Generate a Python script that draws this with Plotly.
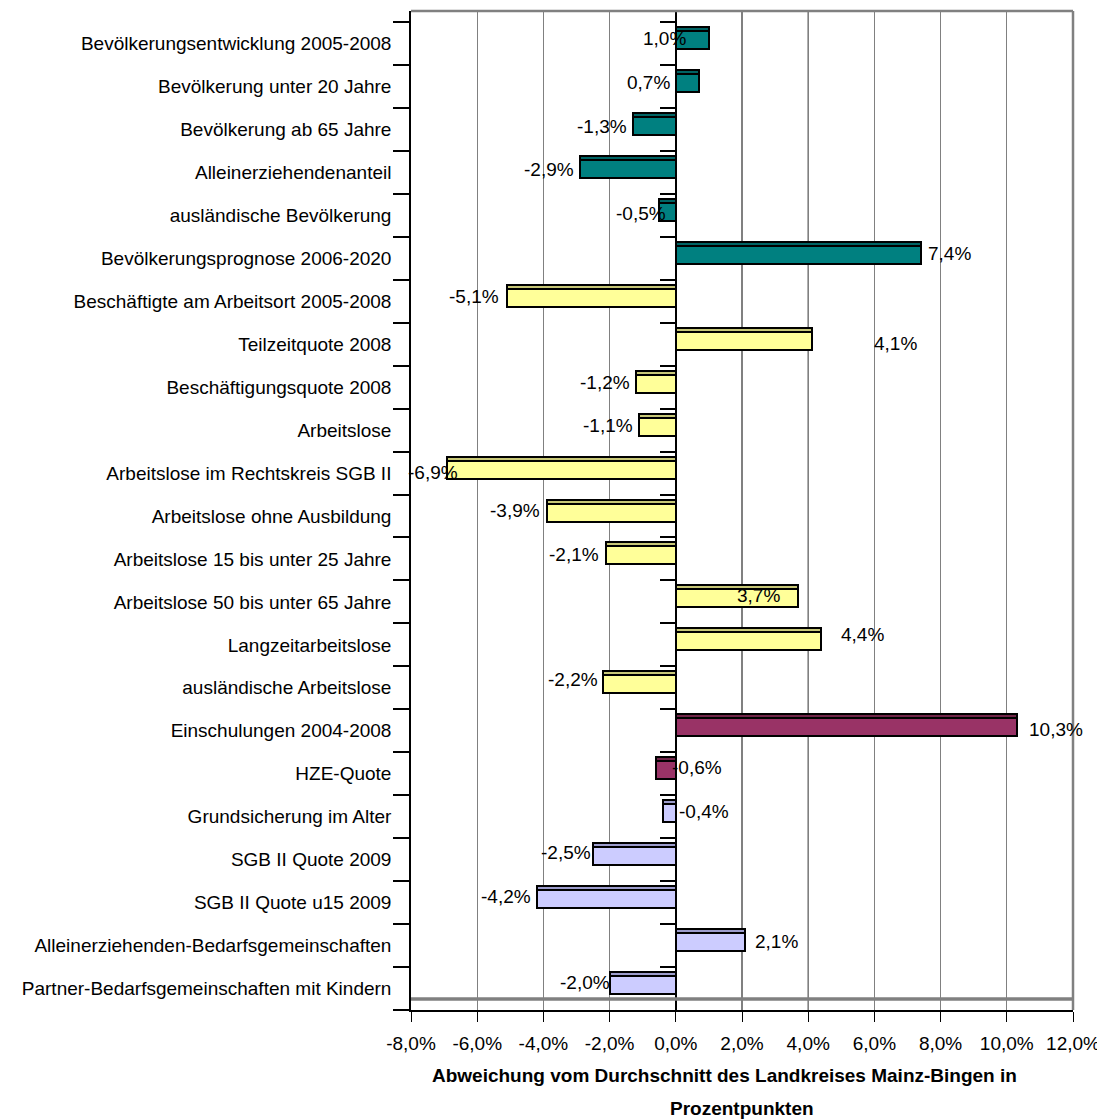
import plotly.graph_objects as go

# Indikatoren (von oben nach unten)
kategorien = [
    "Bevölkerungsentwicklung 2005-2008",
    "Bevölkerung unter 20 Jahre",
    "Bevölkerung ab 65 Jahre",
    "Alleinerziehendenanteil",
    "ausländische Bevölkerung",
    "Bevölkerungsprognose 2006-2020",
    "Beschäftigte am Arbeitsort 2005-2008",
    "Teilzeitquote 2008",
    "Beschäftigungsquote 2008",
    "Arbeitslose",
    "Arbeitslose im Rechtskreis SGB II",
    "Arbeitslose ohne Ausbildung",
    "Arbeitslose 15 bis unter 25 Jahre",
    "Arbeitslose 50 bis unter 65 Jahre",
    "Langzeitarbeitslose",
    "ausländische Arbeitslose",
    "Einschulungen 2004-2008",
    "HZE-Quote",
    "Grundsicherung im Alter",
    "SGB II Quote 2009",
    "SGB II Quote u15 2009",
    "Alleinerziehenden-Bedarfsgemeinschaften",
    "Partner-Bedarfsgemeinschaften mit Kindern",
]
werte = [1.0, 0.7, -1.3, -2.9, -0.5, 7.4, -5.1, 4.1, -1.2, -1.1, -6.9, -3.9,
         -2.1, 3.7, 4.4, -2.2, 10.3, -0.6, -0.4, -2.5, -4.2, 2.1, -2.0]
gruppe = ["bev"] * 6 + ["arb"] * 10 + ["bil"] * 2 + ["sgb"] * 5

x_ticks = [-8, -6, -4, -2, 0, 2, 4, 6, 8, 10, 12]
x_ticktext = ["-8,0%", "-6,0%", "-4,0%", "-2,0%", "0,0%", "2,0%", "4,0%",
              "6,0%", "8,0%", "10,0%", "12,0%"]

titel_zeilen = ["Abweichung vom Durchschnitt des Landkreises Mainz-Bingen in",
                "Prozentpunkten"]

# Farben: Vorderseite / Oberseite (3D-Effekt wie in Excel)
farbe_vorne = {"bev": "#008080", "arb": "#FFFF99", "bil": "#993366", "sgb": "#CCCCFF"}
farbe_oben = {"bev": "#006464", "arb": "#C8C878", "bil": "#702548", "sgb": "#9C9CCC"}

# Verschiebung der Datenbeschriftungen in Pixeln (rechts / unten)
label_dx = [-44, -50, -31, -31, -18, 29, -33, 84, -31, -31, -14, -32, -32, -40,
            41, -30, 39, 41, 41, -27, -31, 31, -25]
label_dy = [-5, -4, -3, -3, -2, -5, -5, -1, -5, -5, -1, -6, -4, -6, -10, -8, -1,
            -6, -5, -7, -6, -4, -6]

FONT = "Liberation Sans, Arial, sans-serif"
FS = 19
n = len(kategorien)
pos = list(range(n))
px_kat = 42.96  # Pixel je Kategorie

fig = go.Figure()

# Oberseite (dunkler Streifen) - ganze Balkenhöhe
fig.add_trace(go.Bar(
    x=werte, y=[p - 5.5 / px_kat for p in pos], orientation="h",
    width=22 / px_kat,
    marker=dict(color=[farbe_oben[g] for g in gruppe],
                line=dict(color="black", width=2)),
    hoverinfo="skip", showlegend=False,
))
# Vorderseite
fig.add_trace(go.Bar(
    x=werte, y=[p - 3.5 / px_kat for p in pos], orientation="h",
    width=18 / px_kat,
    marker=dict(color=[farbe_vorne[g] for g in gruppe],
                line=dict(color="black", width=2)),
    showlegend=False,
))
# unsichtbare Spur für die zweite y-Achse (Striche an der Nulllinie)
fig.add_trace(go.Scatter(x=[0], y=[0], yaxis="y2", mode="markers",
                         marker=dict(opacity=0), hoverinfo="skip", showlegend=False))

for v, p, dx, dy in zip(werte, pos, label_dx, label_dy):
    fig.add_annotation(
        x=v, y=p, xref="x", yref="y",
        text=f"{v:.1f}%".replace(".", ","),
        showarrow=False, xanchor="center", yanchor="middle",
        xshift=dx, yshift=-dy,
        font=dict(family=FONT, size=FS, color="black"),
    )

# Achsentitel (zwei Zeilen)
for zeile, abstand, versatz in zip(titel_zeilen, [-65, -98], [-18, 0]):
    fig.add_annotation(
        x=0.5, y=0, xref="paper", yref="paper", yanchor="middle",
        yshift=abstand, xshift=versatz,
        text=f"<b>{zeile}</b>", showarrow=False,
        font=dict(family=FONT, size=FS, color="black"),
    )

y_top = -0.5 - 11 / px_kat
y_bot = n - 0.5
grenzen = [i - 0.5 for i in range(n + 1)]

linie_grau = "#808080"
fig.update_layout(
    width=1097, height=1111,
    margin=dict(l=403, r=32, t=3, b=109),
    paper_bgcolor="white", plot_bgcolor="white",
    barmode="overlay", bargap=0,
    font=dict(family=FONT, size=FS, color="black"),
    xaxis=dict(
        range=[-8, 12], tickvals=x_ticks, ticktext=x_ticktext,
        showgrid=True, gridcolor=linie_grau, gridwidth=1,
        zeroline=True, zerolinecolor="black", zerolinewidth=2,
        showline=True, linecolor="black", linewidth=1.5,
        ticks="outside", ticklen=10, tickcolor="black",
        ticklabelstandoff=5,
        tickfont=dict(size=FS), fixedrange=True,
    ),
    yaxis=dict(
        range=[y_bot, y_top], tickvals=pos, ticktext=kategorien,
        showgrid=False, zeroline=False,
        showline=True, linecolor="black", linewidth=1.5,
        ticks="outside", ticklen=14, tickcolor="rgba(0,0,0,0)",
        minor=dict(tickmode="array", tickvals=grenzen, ticks="outside",
                   ticklen=16, tickcolor="black", tickwidth=1.5),
        tickfont=dict(size=FS), fixedrange=True,
    ),
    yaxis2=dict(
        range=[y_bot, y_top], overlaying="y", anchor="free", position=0.4,
        side="left", showgrid=False, zeroline=False, showline=False,
        showticklabels=False, ticks="",
        minor=dict(tickmode="array", tickvals=grenzen[:-1], ticks="outside",
                   ticklen=16, tickcolor="black", tickwidth=1.5),
        fixedrange=True,
    ),
    shapes=[
        # dunklere Gitterlinien bei 2 % und 4 %
        dict(type="line", xref="x", yref="paper", x0=2, x1=2, y0=0, y1=1,
             line=dict(color="black", width=1), layer="below"),
        dict(type="line", xref="x", yref="paper", x0=4, x1=4, y0=0, y1=1,
             line=dict(color="black", width=1), layer="below"),
        # Rahmen oben und rechts
        dict(type="line", xref="paper", yref="paper", x0=0, x1=1, y0=1, y1=1,
             line=dict(color=linie_grau, width=2.5)),
        dict(type="line", xref="paper", yref="paper", x0=1, x1=1, y0=0, y1=1,
             line=dict(color=linie_grau, width=2.5)),
        # Bodenkante
        dict(type="line", xref="paper", yref="y", x0=0, x1=1,
             y0=y_bot - 11 / px_kat, y1=y_bot - 11 / px_kat,
             line=dict(color=linie_grau, width=3.5)),
    ],
)

fig.write_html("out.html")
